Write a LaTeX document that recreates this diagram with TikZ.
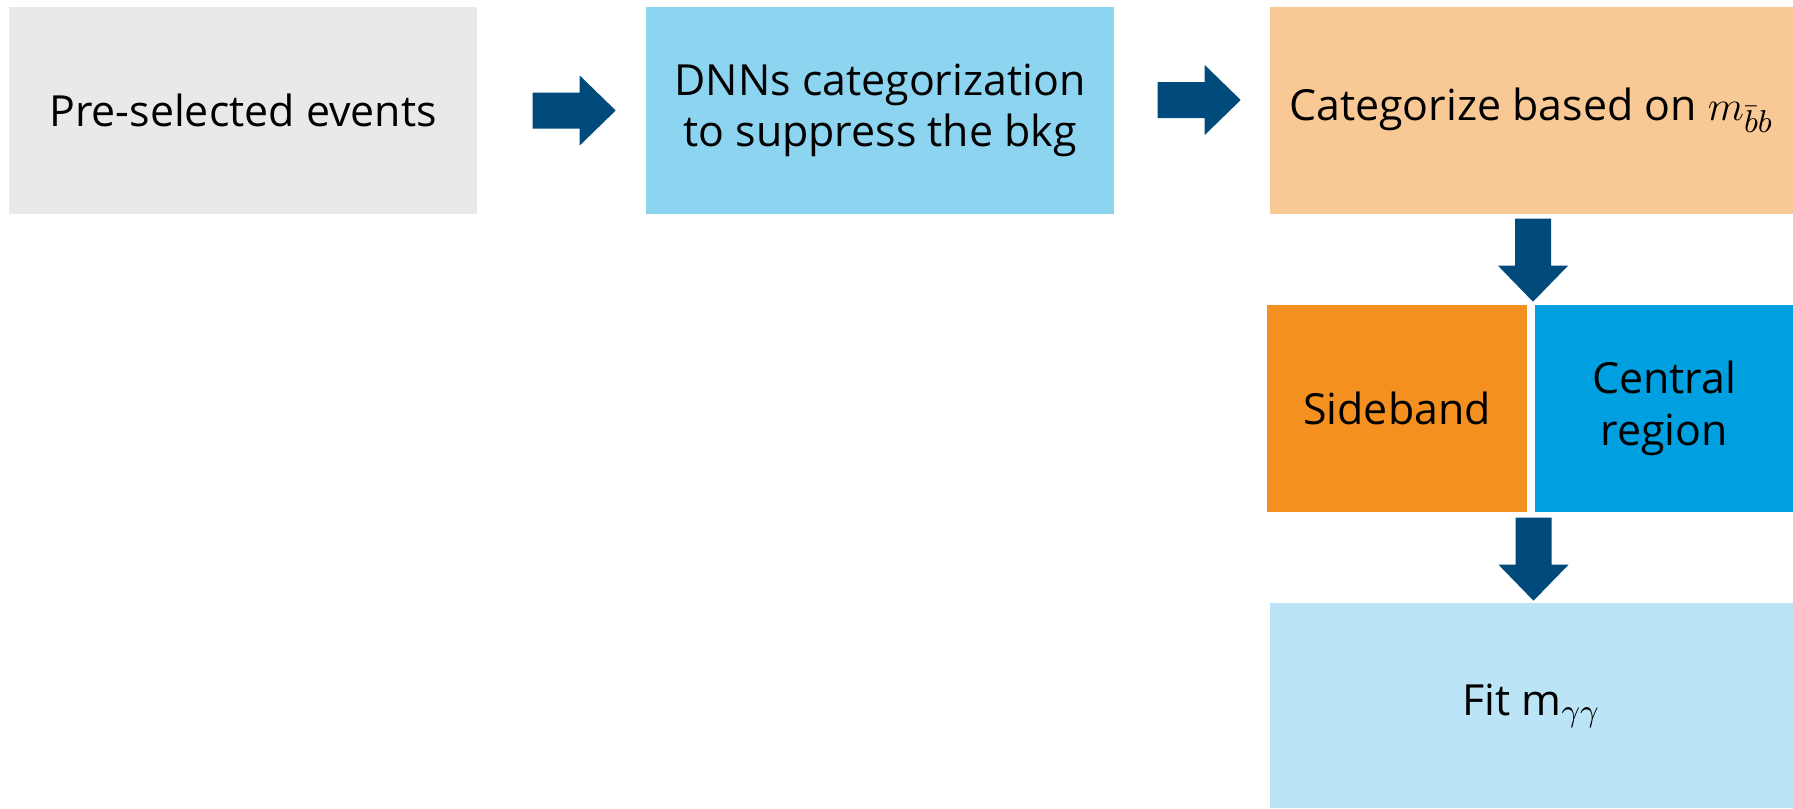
\documentclass[tikz,border=0pt]{standalone}
\usepackage{fontspec}
\setmainfont{Open Sans}
\usepackage{xcolor}
\usetikzlibrary{positioning,calc}

\definecolor{boxgrey}{HTML}{E9E9E9}
\definecolor{dnnblue}{HTML}{8DD4F0}
\definecolor{catpeach}{HTML}{F8C995}
\definecolor{sideorange}{HTML}{F39020}
\definecolor{centblue}{HTML}{00A0E0}
\definecolor{fitblue}{HTML}{BBE4F6}
\definecolor{arrowblue}{HTML}{004A7C}

\tikzset{
  flowarrow/.pic={
    \fill[arrowblue] (0,0.18) -- (0.47,0.18) -- (0.47,0.35) -- (0.83,0)
      -- (0.47,-0.35) -- (0.47,-0.18) -- (0,-0.18) -- cycle;
  }
}

\begin{document}
\begin{tikzpicture}[
    box/.style={minimum height=2.07cm, inner sep=0pt, align=center,
      font=\fontsize{12.2}{14.6}\selectfont}
  ]
  \useasboundingbox (0,0) rectangle (17.93,-8.08);

  % Top row
  \node[box, fill=boxgrey, minimum width=4.68cm] (pre) at (2.43,-1.105) {Pre-selected events};
  \node[box, fill=dnnblue, minimum width=4.68cm] (dnn) at (8.80,-1.105) {DNNs categorization\\to suppress the bkg};
  \node[box, fill=catpeach, minimum width=5.23cm] (cat) at (15.315,-1.105) {Categorize based on $m_{\bar{b}b}$};

  % Regions
  \node[box, fill=sideorange, minimum width=2.60cm] (side) at (13.97,-4.085) {Sideband};
  \node[box, fill=centblue, minimum width=2.58cm] (cent) at (16.64,-4.085) {Central\\region};

  % Fit
  \node[box, fill=fitblue, minimum width=5.23cm, minimum height=2.05cm] (fit) at (15.315,-7.055) {Fit $\mathrm{m}_{\gamma\gamma}$};

  % Arrows
  \pic at ($(pre.east)+(0.55,0)$) {flowarrow};
  \pic at ($(dnn.east)+(0.43,0.105)$) {flowarrow};
  \pic[rotate=-90] at ($(cat.south)+(0.015,-0.04)$) {flowarrow};
  \pic[rotate=-90] at ($(cat.south|-side.south)+(0.02,-0.05)$) {flowarrow};
\end{tikzpicture}
\end{document}
